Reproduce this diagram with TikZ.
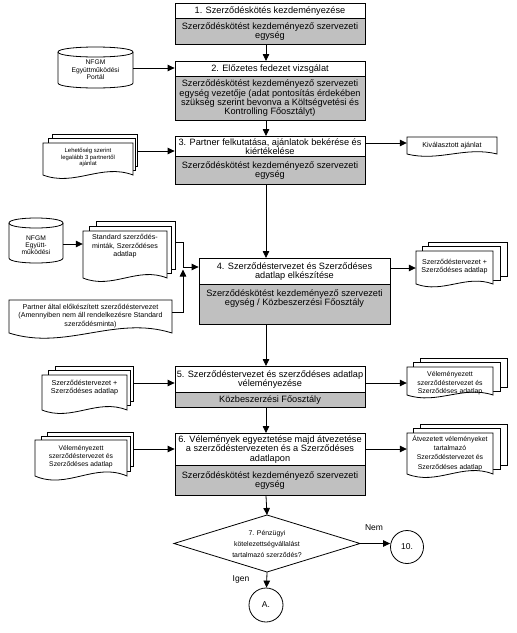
\documentclass[tikz,border=0pt]{standalone}
\usepackage{fontspec}
\setmainfont{Liberation Sans}
\usetikzlibrary{arrows.meta,calc}
\definecolor{boxgray}{RGB}{192,192,192}
\tikzset{
 ln/.style={line width=0.8pt, draw=black},
 arr/.style={ln, -{Triangle[length=7pt,width=6.5pt]}},
 titlebox/.style={ln, fill=white, rectangle, minimum width=190pt, inner xsep=0pt, inner ysep=0.3pt, align=center, font=\fontsize{9.2}{9.4}\selectfont, anchor=north},
 graybox/.style={titlebox, fill=boxgray},
 dtext/.style={inner sep=0pt, align=center},
 lbl/.style={inner sep=0pt, font=\fontsize{8.5}{9}\selectfont},
}
\newcommand\rkpage[4]{\filldraw[ln,fill=white] (#1,#2) rectangle (#3,#4);}
\newcommand\rkdoc[5]{\filldraw[ln,fill=white] (#1,#2) -- (#3,#2) -- (#3,#4) .. controls ({#1+0.65*(#3-#1)},{#4-2*#5}) and ({#1+0.35*(#3-#1)},{#4+2*#5}) .. (#1,#4) -- cycle;}
\newcommand\rkcyl[5]{\filldraw[ln,fill=white] (#1,{#3+#5}) -- (#1,{#4-#5}) .. controls (#1,{#4+#5/3}) and (#2,{#4+#5/3}) .. (#2,{#4-#5}) -- (#2,{#3+#5}) .. controls (#2,{#3-#5/3}) and (#1,{#3-#5/3}) .. (#1,{#3+#5}) -- cycle;
\draw[ln] (#1,{#3+#5}) .. controls (#1,{#3+#5*7/3}) and (#2,{#3+#5*7/3}) .. (#2,{#3+#5});}
\begin{document}
\begin{tikzpicture}[x=1pt,y=-1pt]
\fill[white] (0,0) rectangle (517,633);
\useasboundingbox (0,0) rectangle (517,633);

% main boxes
\node[titlebox, minimum height=15pt] (b1t) at (270,3) {1. Szerződéskötés kezdeményezése};
\node[graybox, minimum height=26pt] (b1g) at (270,18) {Szerződéskötést kezdeményező szervezeti\\egység};
\node[titlebox, minimum height=15pt] (b2t) at (270,61) {2. Előzetes fedezet vizsgálat};
\node[graybox, minimum height=44pt] (b2g) at (270,76) {Szerződéskötést kezdeményező szervezeti\\egység vezetője (adat pontosítás érdekében\\szükség szerint bevonva a Költségvetési és\\Kontrolling Főosztályt)};
\node[titlebox, minimum height=20pt] (b3t) at (270,136) {3. Partner felkutatása, ajánlatok bekérése és\\kiértékelése};
\node[graybox, minimum height=28pt] (b3g) at (270,156) {Szerződéskötést kezdeményező szervezeti\\egység};
\node[titlebox, minimum height=26pt, minimum width=191pt] (b4t) at (294.5,258) {4. Szerződéstervezet és Szerződéses\\adatlap elkészítése};
\node[graybox, minimum height=40pt, minimum width=191pt] (b4g) at (294.5,284) {};
\node[dtext, font=\fontsize{9.2}{9.4}\selectfont] (b4x) at (294.5,298.5) {Szerződéskötést kezdeményező szervezeti\\egység / Közbeszerzési Főosztály};
\node[titlebox, minimum height=26pt] (b5t) at (270,366) {5. Szerződéstervezet és szerződéses adatlap\\véleményezése};
\node[graybox, minimum height=15pt] (b5g) at (270,392) {Közbeszerzési Főosztály};
\node[titlebox, minimum height=32pt] (b6t) at (270,433) {6. Vélemények egyeztetése majd átvezetése\\a szerződéstervezeten és a Szerződéses\\adatlapon};
\node[graybox, minimum height=30pt] (b6g) at (270,465) {Szerződéskötést kezdeményező szervezeti\\egység};

% cylinders
\rkcyl{58}{133}{47}{88}{5}
\node[dtext, font=\fontsize{6.7}{7.4}\selectfont] (cy1) at (95.5,70) {NFGM\\Együttműködési\\Portál};
\rkcyl{9}{63}{218}{263}{5}
\node[dtext, font=\fontsize{6.7}{7.2}\selectfont] (cy2) at (36,245) {NFGM\\Együtt-\\működési};

% stack A
\rkpage{52}{134}{137}{166.3}
\rkpage{48}{138.5}{135}{170.8}
\rkdoc{43}{143}{133}{175}{6}
\node[dtext, minimum width=90pt, font=\fontsize{5.9}{6.2}\selectfont] (sA) at (88,157.5) {Lehetőség szerint\\legalább 3 partnertől\\ajánlat};

% Kiválasztott ajánlat
\rkdoc{407}{137}{497}{154}{4}
\node[dtext, minimum width=90pt, font=\fontsize{7.1}{8}\selectfont] (kA) at (452,145.5) {Kiválasztott ajánlat};

% stack B
\rkpage{96}{221}{175}{269.3}
\rkpage{89}{226}{171}{273.8}
\rkdoc{83}{231}{167}{278}{6}
\node[dtext, minimum width=84pt, font=\fontsize{7.1}{8.5}\selectfont] (sB) at (125,246.5) {Standard szerződés-\\minták, Szerződéses\\adatlap};

% Partner doc
\rkdoc{9}{300}{172}{333}{9}
\node[dtext, minimum width=163pt, font=\fontsize{7.1}{8.5}\selectfont] (pD) at (90.5,316) {Partner által előkészített szerződéstervezet\\(Amennyiben nem áll rendelkezésre Standard\\szerződésminta)};

% stack right of 4
\rkpage{428}{242}{507}{276}
\rkpage{422}{246.5}{500}{280.5}
\rkdoc{416}{251}{493}{284}{5}
\node[dtext, minimum width=77pt, font=\fontsize{7.1}{7.8}\selectfont] (s4R) at (454.5,266.5) {Szerződéstervezet +\\Szerződéses adatlap};

% stack left of 5
\rkpage{55}{366}{133}{401.3}
\rkpage{48}{370.5}{130}{405.8}
\rkdoc{42}{375}{127}{410}{6}
\node[dtext, minimum width=85pt, font=\fontsize{7.2}{8.8}\selectfont] (s5L) at (84.5,387.5) {Szerződéstervezet +\\Szerződéses adatlap};

% stack right of 5
\rkpage{420}{358}{507}{387}
\rkpage{413}{362.5}{500}{391.5}
\rkdoc{407}{367}{493}{395}{5}
\node[dtext, minimum width=86pt, font=\fontsize{6.9}{8.6}\selectfont] (s5R) at (450,383.5) {Véleményezett\\szerződéstervezet és\\Szerződéses adatlap};

% stack left of 6
\rkpage{47}{432}{133}{466.6}
\rkpage{41}{436}{130}{471.1}
\rkdoc{35}{440}{127}{476}{7}
\node[dtext, minimum width=92pt, font=\fontsize{6.8}{8}\selectfont] (s6L) at (81,457) {Véleményezett\\szerződéstervezet és\\Szerződéses adatlap};

% stack right of 6
\rkpage{420}{424}{507}{465.3}
\rkpage{413}{428.5}{500}{469.8}
\rkdoc{407}{433}{493}{474}{6}
\node[dtext, minimum width=86pt, font=\fontsize{6.9}{9.2}\selectfont] (s6R) at (450,453) {Átvezetett véleményeket\\tartalmazó\\Szerződéstervezet és\\Szerződéses adatlap};

% decision
\coordinate (dT) at (267,515);
\coordinate (dR) at (360,543.5);
\coordinate (dB) at (267,572);
\coordinate (dL) at (174,543.5);
\draw[ln] (dT) -- (dR) -- (dB) -- (dL) -- cycle;
\node[dtext, font=\fontsize{6.9}{10.8}\selectfont] (dia) at (267,544) {7. Pénzügyi\\kötelezettségvállalást\\tartalmazó szerződés?};
\node[ln, circle, minimum size=33pt, inner sep=0pt, font=\fontsize{8.5}{9}\selectfont] (c10) at (407,547) {10.};
\node[ln, circle, minimum size=34pt, inner sep=0pt, font=\fontsize{8.5}{9}\selectfont] (cA) at (266,605) {A.};
\node[lbl] (nem) at (374,528) {Nem};
\node[lbl] (igen) at (241,579) {Igen};

% flow connectors
\coordinate (flow) at (266,0);
\draw[arr] (b1g.south -| flow) -- (b2t.north -| flow);
\draw[arr] (b2g.south -| flow) -- (b3t.north -| flow);
\draw[arr] (b3g.south -| flow) -- (b4t.north -| flow);
\draw[arr] (b4g.south -| flow) -- (b5t.north -| flow);
\draw[arr] (b5g.south -| flow) -- (b6t.north -| flow);
\draw[arr] (b6g.south -| flow) -- (dT);
\draw[arr] (dB) -- (cA);
\draw[arr] (dR) -- (dR -| c10.west);

% side connectors
\coordinate (aCy1) at (133,68);
\draw[arr] (aCy1) -- (aCy1 -| b2t.west);
\coordinate (aSA) at (137,151);
\draw[arr] (aSA) -- (aSA -| b3t.west);
\coordinate (aKA) at (407,143);
\draw[arr] (aKA -| b3t.east) -- (aKA -| kA.west);
\coordinate (aCy2) at (63,244);
\draw[arr] (aCy2) -- (aCy2 -| sB.west);
\coordinate (aSB) at (175,242);
\coordinate (jn) at (183,267);
\draw[arr] (aSB) -| (jn) -- (jn -| b4t.west);
\coordinate (aPD) at (172,312);
\coordinate (jn2) at (183,269.5);
\draw[arr] (aPD) -| (jn2);
\coordinate (a4R) at (416,268);
\draw[arr] (a4R -| b4t.east) -- (a4R -| s4R.west);
\coordinate (a5L) at (133,383);
\draw[arr] (a5L) -- (a5L -| b5t.west);
\coordinate (a5R) at (407,383);
\draw[arr] (a5R -| b5t.east) -- (a5R -| s5R.west);
\coordinate (a6L) at (133,449);
\draw[arr] (a6L) -- (a6L -| b6t.west);
\coordinate (a6R) at (407,449);
\draw[arr] (a6R -| b6t.east) -- (a6R -| s6R.west);
\end{tikzpicture}
\end{document}
